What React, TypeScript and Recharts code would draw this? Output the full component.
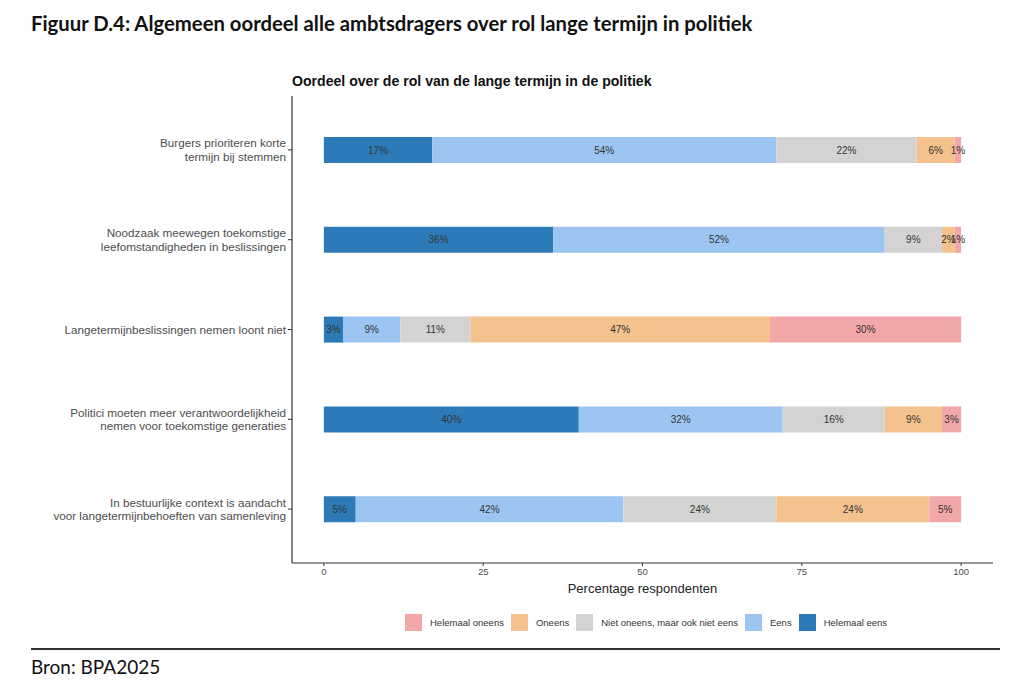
import React from 'react';
import { BarChart, Bar, XAxis, YAxis, LabelList, Label } from 'recharts';

const categories: string[] = [
  'Burgers prioriteren korte\ntermijn bij stemmen',
  'Noodzaak meewegen toekomstige\nleefomstandigheden in beslissingen',
  'Langetermijnbeslissingen nemen loont niet',
  'Politici moeten meer verantwoordelijkheid\nnemen voor toekomstige generaties',
  'In bestuurlijke context is aandacht\nvoor langetermijnbehoeften van samenleving',
];

const helemaalEens = [17, 36, 3, 40, 5];
const eens = [54, 52, 9, 32, 42];
const neutraal = [22, 9, 11, 16, 24];
const oneens = [6, 2, 47, 9, 24];
const helemaalOneens = [1, 1, 30, 3, 5];

const xTicks = [0, 25, 50, 75, 100];

const seriesKeys = ['helemaalEens', 'eens', 'neutraal', 'oneens', 'helemaalOneens'];
const seriesNames = ['Helemaal eens', 'Eens', 'Niet oneens, maar ook niet eens', 'Oneens', 'Helemaal oneens'];
const seriesColors = ['#2C7BB8', '#9CC6F1', '#D3D3D3', '#F4C28D', '#F2A7A8'];
const legendOrder = [4, 3, 2, 1, 0];

const data = categories.map((name, i) => ({
  name,
  helemaalEens: helemaalEens[i],
  eens: eens[i],
  neutraal: neutraal[i],
  oneens: oneens[i],
  helemaalOneens: helemaalOneens[i],
}));

const AXIS_FONT = '"Liberation Sans", Arial, Helvetica, sans-serif';

const YTick = (props: any) => {
  const { x, y, payload } = props;
  const lines = String(payload.value).split('\n');
  const lh = 13.5;
  const start = -((lines.length - 1) * lh) / 2;
  return (
    <g>
      {lines.map((l: string, i: number) => (
        <text
          key={i}
          x={x}
          y={y + start + i * lh}
          dy="0.355em"
          textAnchor="end"
          fill="#4D4D4D"
          fontSize={11.7}
          fontFamily={AXIS_FONT}
        >
          {l}
        </text>
      ))}
    </g>
  );
};

export default function App() {
  return (
    <div style={{ position: 'relative', width: 1030, height: 687, background: '#fff', overflow: 'hidden' }}>
      <style>{`body{margin:0;}`}</style>
      <div
        style={{
          position: 'absolute',
          left: 31,
          top: 11,
          fontFamily: 'Lato, "Open Sans", sans-serif',
          fontWeight: 700,
          fontSize: 20.3,
          color: '#111',
          whiteSpace: 'nowrap',
        }}
      >
        Figuur D.4: Algemeen oordeel alle ambtsdragers over rol lange termijn in politiek
      </div>
      <div
        style={{
          position: 'absolute',
          left: 292,
          top: 73,
          fontFamily: AXIS_FONT,
          fontWeight: 700,
          fontSize: 14.1,
          color: '#111',
          whiteSpace: 'nowrap',
        }}
      >
        Oordeel over de rol van de lange termijn in de politiek
      </div>
      <div style={{ position: 'absolute', left: 0, top: 0 }}>
        <BarChart
          width={1030}
          height={687}
          data={data}
          layout="vertical"
          margin={{ top: 96, right: 37, bottom: 94, left: 32 }}
        >
          <XAxis
            type="number"
            domain={[-5, 105]}
            ticks={xTicks}
            allowDataOverflow
            axisLine={{ stroke: '#333', strokeWidth: 1.2 }}
            tickLine={{ stroke: '#333' }}
            tickSize={3}
            tick={{ fill: '#4D4D4D', fontSize: 9.5, fontFamily: AXIS_FONT }}
            height={30}
          >
            <Label
              value="Percentage respondenten"
              position="insideBottom"
              offset={0}
              fill="#222"
              fontSize={13}
              fontFamily={AXIS_FONT}
            />
          </XAxis>
          <YAxis
            type="category"
            dataKey="name"
            width={260}
            padding={{ top: 9, bottom: 9 }}
            axisLine={{ stroke: '#333', strokeWidth: 1.2 }}
            tickLine={{ stroke: '#333' }}
            tickSize={4}
            tick={<YTick />}
            interval={0}
          />
          {seriesKeys.map((k, i) => (
            <Bar
              key={k}
              dataKey={k}
              name={seriesNames[i]}
              stackId="a"
              fill={seriesColors[i]}
              barSize={26}
              isAnimationActive={false}
            >
              <LabelList
                dataKey={k}
                position="center"
                formatter={(v: any) => `${v}%`}
                fill="#333"
                fontSize={10}
                fontFamily={AXIS_FONT}
              />
            </Bar>
          ))}
        </BarChart>
      </div>
      <div
        style={{
          position: 'absolute',
          left: 0,
          width: 1292,
          top: 614,
          height: 17,
          display: 'flex',
          justifyContent: 'center',
          alignItems: 'center',
          fontFamily: AXIS_FONT,
          fontSize: 9.5,
          color: '#333',
        }}
      >
        {legendOrder.map((idx, j) => (
          <div key={idx} style={{ display: 'flex', alignItems: 'center', marginLeft: j === 0 ? 0 : 7 }}>
            <div style={{ width: 17, height: 17, background: seriesColors[idx] }} />
            <span style={{ marginLeft: 8, whiteSpace: 'nowrap' }}>{seriesNames[idx]}</span>
          </div>
        ))}
      </div>
      <div style={{ position: 'absolute', left: 31, top: 648, width: 969, height: 2, background: '#333' }} />
      <div
        style={{
          position: 'absolute',
          left: 31,
          top: 655,
          fontFamily: 'Lato, "Open Sans", sans-serif',
          fontSize: 19,
          color: '#111',
          whiteSpace: 'nowrap',
        }}
      >
        Bron: BPA2025
      </div>
    </div>
  );
}
